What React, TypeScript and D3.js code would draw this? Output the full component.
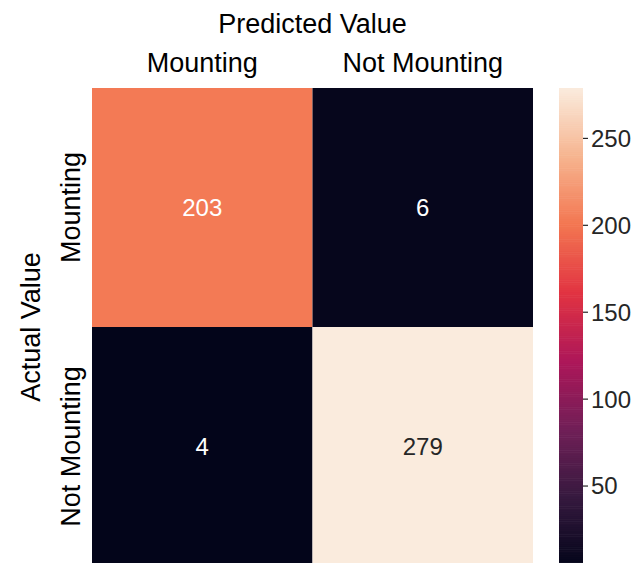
import React from "react";
import * as d3 from "d3";

const categories = ["Mounting", "Not Mounting"];
const actualRows = ["Mounting", "Not Mounting"];
const matrixValues = [
  [203, 6],
  [4, 279],
];
const colorbarTicks = [50, 100, 150, 200, 250];
const xTitle = "Predicted Value";
const yTitle = "Actual Value";

// seaborn "rocket" colormap anchors
const rocketStops = [0, 1 / 7, 2 / 7, 3 / 7, 4 / 7, 5 / 7, 6 / 7, 1];
const rocketColors = ["#03051a", "#35193e", "#701f57", "#ad1759", "#e13342", "#f37651", "#f6b48f", "#faebdd"];

const W = 635;
const H = 563;
const FONT = "Liberation Sans, Arial, sans-serif";

export default function App() {
  const flat = matrixValues.flat();
  const vmin = d3.min(flat) as number;
  const vmax = d3.max(flat) as number;

  const x = d3.scaleBand<string>().domain(categories).range([92, 533]);
  const y = d3.scaleBand<string>().domain(actualRows).range([88, 566]);

  const cmapT = d3.scaleLinear<string>().domain(rocketStops).range(rocketColors).interpolate(d3.interpolateRgb);
  const norm = d3.scaleLinear().domain([vmin, vmax]).range([0, 1]).clamp(true);
  const color = (v: number) => cmapT(norm(v));

  const cb = d3.scaleLinear().domain([vmin, vmax]).range([566, 88]);
  const cbX0 = 559;
  const cbX1 = 583;
  const steps = d3.range(0, 256);
  const stepH = (566 - 88) / 256;

  const textColor = (v: number) => {
    const c = d3.rgb(color(v));
    const lin = (u: number) => {
      const s = u / 255;
      return s <= 0.03928 ? s / 12.92 : Math.pow((s + 0.055) / 1.055, 2.4);
    };
    const lum = 0.2126 * lin(c.r) + 0.7152 * lin(c.g) + 0.0722 * lin(c.b);
    return lum > 0.408 ? "#262626" : "#ffffff";
  };

  return (
    <svg
      width={W}
      height={H}
      style={{ position: "absolute", left: 0, top: 0, display: "block", background: "#fff" }}
      fontFamily={FONT}
    >
      <rect x={0} y={0} width={W} height={H} fill="#fff" />
      {matrixValues.map((row, i) =>
        row.map((v, j) => (
          <g key={`${i}-${j}`}>
            <rect
              x={x(categories[j])}
              y={y(actualRows[i])}
              width={x.bandwidth()}
              height={y.bandwidth()}
              fill={color(v)}
            />
            <text
              x={(x(categories[j]) as number) + x.bandwidth() / 2}
              y={(y(actualRows[i]) as number) + y.bandwidth() / 2}
              dy="0.35em"
              textAnchor="middle"
              fontSize={24}
              fill={textColor(v)}
            >
              {v}
            </text>
          </g>
        ))
      )}
      {/* top tick labels */}
      {categories.map((c) => (
        <text
          key={c}
          x={(x(c) as number) + x.bandwidth() / 2}
          y={72}
          textAnchor="middle"
          fontSize={27}
          fill="#000"
        >
          {c}
        </text>
      ))}
      <text x={(92 + 533) / 2} y={33} textAnchor="middle" fontSize={27} fill="#000">
        {xTitle}
      </text>
      {/* left tick labels */}
      {actualRows.map((r) => {
        const cy = (y(r) as number) + y.bandwidth() / 2;
        return (
          <text key={r} transform={`translate(80,${cy}) rotate(-90)`} textAnchor="middle" fontSize={27} fill="#000">
            {r}
          </text>
        );
      })}
      <text transform={`translate(40,${(88 + 566) / 2}) rotate(-90)`} textAnchor="middle" fontSize={27} fill="#000">
        {yTitle}
      </text>
      {/* colorbar */}
      {steps.map((s) => {
        const v = vmin + ((s + 0.5) / 256) * (vmax - vmin);
        return (
          <rect
            key={s}
            x={cbX0}
            y={566 - (s + 1) * stepH}
            width={cbX1 - cbX0}
            height={stepH + 0.6}
            fill={color(v)}
          />
        );
      })}
      {colorbarTicks.map((t) => (
        <g key={t} transform={`translate(${cbX1},${cb(t)})`}>
          <line x1={0} x2={5} y1={0} y2={0} stroke="#262626" strokeWidth={1.2} />
          <text x={8} dy="0.35em" fontSize={24} fill="#262626">
            {t}
          </text>
        </g>
      ))}
    </svg>
  );
}
